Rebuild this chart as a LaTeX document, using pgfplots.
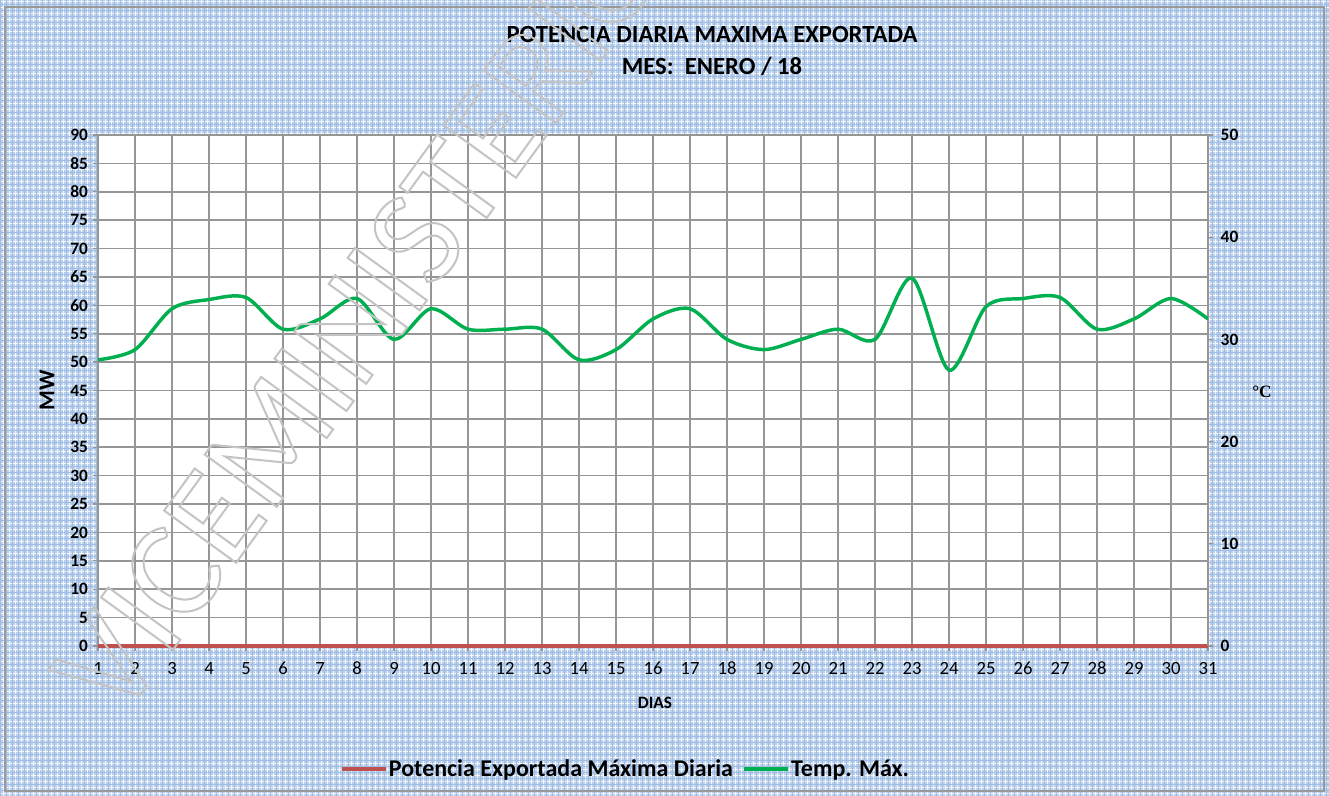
\documentclass[border=0pt]{standalone}
\usepackage{pgfplots}
\pgfplotsset{compat=1.18}
\usepackage{fontspec}
\setmainfont{Carlito}
\newfontfamily\serifb{Liberation Serif}
\definecolor{bgblue}{RGB}{186,207,236}
\definecolor{bgdark}{RGB}{140,176,222}
\definecolor{gridgray}{RGB}{150,150,150}
\definecolor{potred}{RGB}{192,80,77}
\definecolor{tempgreen}{RGB}{0,176,80}
\definecolor{wmgray}{RGB}{196,196,196}

\pgfplotstableread{
dia temp
1 28.0
2 29.0
3 33.0
4 33.9
5 34.1
6 31.0
7 32.0
8 34.0
9 30.0
10 33.0
11 31.0
12 31.0
13 31.0
14 28.0
15 29.0
16 32.0
17 33.0
18 30.0
19 29.0
20 30.0
21 31.0
22 30.0
23 36.0
24 27.0
25 33.2
26 34.0
27 34.1
28 31.0
29 32.0
30 34.0
31 32.0
}\temptable

\pgfplotstableread{
dia mw
1 0
2 0
3 0
4 0
5 0
6 0
7 0
8 0
9 0
10 0
11 0
12 0
13 0
14 0
15 0
16 0
17 0
18 0
19 0
20 0
21 0
22 0
23 0
24 0
25 0
26 0
27 0
28 0
29 0
30 0
31 0
}\mwtable

\begin{document}
\begin{tikzpicture}
\useasboundingbox (0pt,0pt) rectangle (996.75pt,597pt);
\clip (0pt,0pt) rectangle (996.75pt,597pt);
% background
\fill[bgblue] (0pt,0pt) rectangle (996.75pt,597pt);
\draw[white, line width=0.5pt, opacity=0.85, step=2.25pt] (0pt,0pt) grid (996.75pt,597pt);
\draw[bgdark, line width=0.3pt, opacity=0.8, step=4.5pt] (0pt,0pt) grid (996.75pt,597pt);
\draw[gray!80, line width=1pt] (3.75pt,3.75pt) rectangle (993pt,591.75pt);

\begin{axis}[
  at={(73.5pt,112.5pt)}, anchor=south west,
  scale only axis, width=832.5pt, height=383.25pt,
  xmin=1, xmax=31, ymin=0, ymax=90,
  xtick={1,...,31}, ytick={0,5,...,90},
  tick pos=left,
  grid=major,
  major grid style={gridgray, line width=1.2pt},
  axis line style={gridgray, line width=1.4pt},
  tick style={gridgray, line width=1pt},
  tick align=outside, major tick length=4pt,
  axis background/.style={fill=white},
  /pgf/number format/assume math mode=true,
  yticklabel style={font=\fontsize{13}{13}\selectfont\bfseries},
  xticklabel style={font=\fontsize{14}{14}\selectfont, text height=9.5pt, text depth=0pt, yshift=-4pt},
  clip=false,
]
\addplot[potred, line width=3pt] table[x=dia, y=mw] {\mwtable};
\end{axis}

\begin{axis}[
  at={(73.5pt,112.5pt)}, anchor=south west,
  scale only axis, width=832.5pt, height=383.25pt,
  xmin=1, xmax=31, ymin=0, ymax=50,
  ytick={0,10,...,50},
  axis x line=none,
  axis y line*=right,
  axis line style={gridgray, line width=1.4pt},
  tick style={gridgray, line width=1pt},
  tick align=outside, major tick length=4pt,
  /pgf/number format/assume math mode=true,
  yticklabel style={font=\fontsize{13}{13}\selectfont\bfseries, xshift=2pt},
  legend image code/.code={\draw[#1] (0pt,0pt) -- (33pt,0pt);},
  legend style={at={(0.4748,-0.2407)}, anchor=center, draw=none, fill=none,
    font=\fontsize{18}{18}\selectfont\bfseries, legend columns=2,
    /tikz/every even column/.append style={column sep=6pt},
    nodes={inner sep=1pt}},
]
\addlegendimage{potred, line width=3pt}
\addlegendentry{Potencia Exportada Máxima Diaria}
\addplot[tempgreen, line width=2.6pt, smooth, tension=0.5] table[x=dia, y=temp] {\temptable};
\addlegendentry{Temp. Máx.}
\end{axis}

% titles and labels
\node[font=\fontsize{18.5}{18.5}\selectfont\bfseries] at (534pt,570.75pt) {POTENCIA DIARIA MAXIMA EXPORTADA};
\node[font=\fontsize{18.5}{18.5}\selectfont\bfseries] at (534pt,547.5pt) {MES:\ \ ENERO / 18};
\node[font=\fontsize{17}{17}\selectfont\bfseries, rotate=90] at (35.25pt,304.5pt) {MW};
\node[font=\fontsize{13}{13}\selectfont\bfseries] at (491.25pt,69.75pt) {DIAS};
\node[font=\fontsize{13}{13}\selectfont\serifb\bfseries] at (946.5pt,303pt) {°C};

% watermark
\node[rotate=54, anchor=base west, inner sep=0pt, text=wmgray, font=\fontsize{104}{104}\selectfont]
  at (90pt,55pt) {\special{pdf:literal direct 1 Tr 1.5 w}VICEMINISTERIO\special{pdf:literal direct 0 Tr}};
\end{tikzpicture}
\end{document}
